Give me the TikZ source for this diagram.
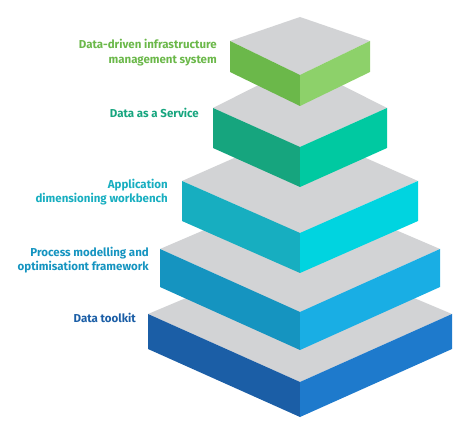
\documentclass[tikz,border=0pt]{standalone}
\usepackage{fontspec}
\setmainfont{Fira Sans}
\usepackage{tikz}
\usetikzlibrary{calc}

\definecolor{topgray}{HTML}{D2D3D5}
\definecolor{greenL}{HTML}{6BB84A}
\definecolor{greenR}{HTML}{8DD16A}
\definecolor{tealL}{HTML}{16A57E}
\definecolor{tealR}{HTML}{00C9A1}
\definecolor{cyanL}{HTML}{17AEC0}
\definecolor{cyanR}{HTML}{00D4E0}
\definecolor{skyL}{HTML}{1594C0}
\definecolor{skyR}{HTML}{19AEE4}
\definecolor{blueL}{HTML}{1B5EA6}
\definecolor{blueR}{HTML}{1E7ACC}

% slab: #1 corner y, #2 half width, #3 back y, #4 front y, #5 height, #6 left, #7 right
\newcommand{\slab}[7]{%
    \fill[topgray] (300-#2, #1) -- (300, #3) -- (300+#2, #1) -- (300, #4) -- cycle;
    \fill[#6] (300-#2, #1) -- (300, #4) -- (300, #4+#5) -- (300-#2, #1+#5) -- cycle;
    \fill[#7] (300+#2, #1) -- (300, #4) -- (300, #4+#5) -- (300+#2, #1+#5) -- cycle;
}

\begin{document}
\begin{tikzpicture}[x=1pt, y=-1pt]

    \tikzstyle{label}=[anchor=east, align=right, font=\fontsize{11.5}{14.5}\selectfont\bfseries, inner sep=0pt];
    \useasboundingbox (0, 0) rectangle (474, 438);

    % from the bottom up
    \slab{314}{152}{250}{382}{35}{blueL}{blueR}
    \slab{249}{140}{189}{312}{38}{skyL}{skyR}
    \slab{181}{118}{129}{233}{40}{cyanL}{cyanR}
    \slab{108}{87}{64}{147}{40}{tealL}{tealR}
    \slab{41}{70}{17}{75}{31}{greenL}{greenR}

    \node[label, text=greenL] (ddims) at (217, 52.5) {Data-driven infrastructure\\management system};
    \node[label, text=tealL] (daas) at (199, 113) {Data as a Service};
    \node[label, text=cyanL] (adw) at (168, 192) {Application\\dimensioning workbench};
    \node[label, text=skyL] (pmof) at (149, 260) {Process modelling and\\optimisationt framework};
    \node[label, text=blueL] (dtk) at (136, 318) {Data toolkit};

\end{tikzpicture}
\end{document}
